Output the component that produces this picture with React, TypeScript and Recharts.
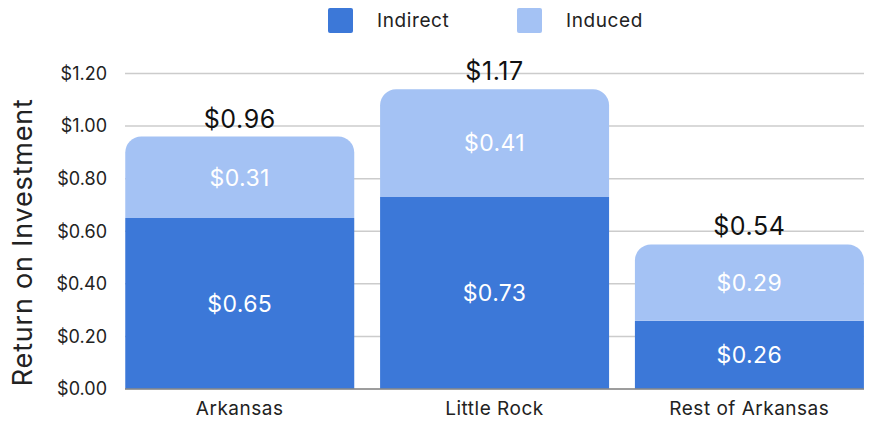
import { BarChart, Bar, XAxis, YAxis, CartesianGrid, Legend, LabelList } from 'recharts';

const categories = ['Arkansas', 'Little Rock', 'Rest of Arkansas'];
const indirect = [0.65, 0.73, 0.26];
const induced = [0.31, 0.41, 0.29];
const totals = ['$0.96', '$1.17', '$0.54'];
const yTicks = [0, 0.2, 0.4, 0.6, 0.8, 1.0, 1.2];

const INDIRECT = '#3c78d8';
const INDUCED = '#a4c2f4';
const FONT = 'Inter, "Noto Sans", sans-serif';

const data = categories.map((name, i) => ({
  name,
  indirect: indirect[i],
  induced: induced[i],
  total: totals[i],
}));

const money = (v: number) => `$${v.toFixed(2)}`;

function LegendBox() {
  const items = [
    { label: 'Indirect', color: INDIRECT },
    { label: 'Induced', color: INDUCED },
  ];
  return (
    <div style={{ display: 'flex', fontFamily: FONT, fontSize: 19, letterSpacing: 0.6, color: '#222' }}>
      {items.map((it) => (
        <div key={it.label} style={{ display: 'flex', alignItems: 'center', width: 189 }}>
          <div style={{ width: 25, height: 25, background: it.color, borderRadius: 2, marginRight: 24 }} />
          <span>{it.label}</span>
        </div>
      ))}
    </div>
  );
}

function TotalLabel(props: any) {
  const { x, y, width, index } = props;
  return (
    <text
      x={x + width / 2}
      y={y - 9}
      textAnchor="middle"
      fontFamily={FONT}
      fontSize={25}
      letterSpacing={0.6}
      fill="#111"
    >
      {totals[index]}
    </text>
  );
}

function AxisTitle(props: any) {
  const { viewBox } = props;
  const cx = 22;
  const cy = viewBox.y + viewBox.height / 2 + 11;
  return (
    <text
      x={cx}
      y={cy}
      transform={`rotate(-90, ${cx}, ${cy})`}
      textAnchor="middle"
      dominantBaseline="central"
      fontFamily={FONT}
      fontSize={27}
      letterSpacing={0.8}
      fill="#222"
    >
      Return on Investment
    </text>
  );
}

export default function App() {
  return (
    <div style={{ position: 'absolute', left: 0, top: 0, background: '#fff' }}>
      <BarChart
        width={870}
        height={423}
        data={data}
        margin={{ top: 73.5, right: 6, bottom: 0, left: 0 }}
      >
        <CartesianGrid vertical={false} stroke="#cccccc" strokeWidth={1.5} />
        <XAxis
          dataKey="name"
          axisLine={{ stroke: '#888', strokeWidth: 1.5 }}
          tickLine={false}
          tickSize={0}
          tickMargin={13}
          height={34}
          padding={{ left: -12.75, right: -12.75 }}
          tick={{ fontFamily: FONT, fontSize: 19, letterSpacing: 0.5, fill: '#222' }}
        />
        <YAxis
          width={125}
          domain={[0, 1.2]}
          ticks={yTicks}
          tickFormatter={money}
          axisLine={false}
          tickLine={false}
          tickSize={0}
          tickMargin={18}
          tick={{ fontFamily: FONT, fontSize: 18, fill: '#222' }}
          label={<AxisTitle />}
        />
        <Legend
          verticalAlign="middle"
          align="center"
          layout="horizontal"
          wrapperStyle={{ top: 8, left: 328, width: 'auto' }}
          content={() => <LegendBox />}
        />
        <Bar dataKey="indirect" name="Indirect" stackId="a" fill={INDIRECT} barSize={229} isAnimationActive={false}>
          <LabelList
            dataKey="indirect"
            position="center"
            formatter={(v: any) => money(Number(v))}
            fill="#fff"
            fontSize={23}
            letterSpacing={0.4}
            fontFamily={FONT}
          />
        </Bar>
        <Bar dataKey="induced" name="Induced" stackId="a" fill={INDUCED} barSize={229} radius={[16, 16, 0, 0]} isAnimationActive={false}>
          <LabelList
            dataKey="induced"
            position="center"
            formatter={(v: any) => money(Number(v))}
            fill="#fff"
            fontSize={23}
            letterSpacing={0.4}
            fontFamily={FONT}
          />
          <LabelList dataKey="total" content={<TotalLabel />} />
        </Bar>
      </BarChart>
    </div>
  );
}
